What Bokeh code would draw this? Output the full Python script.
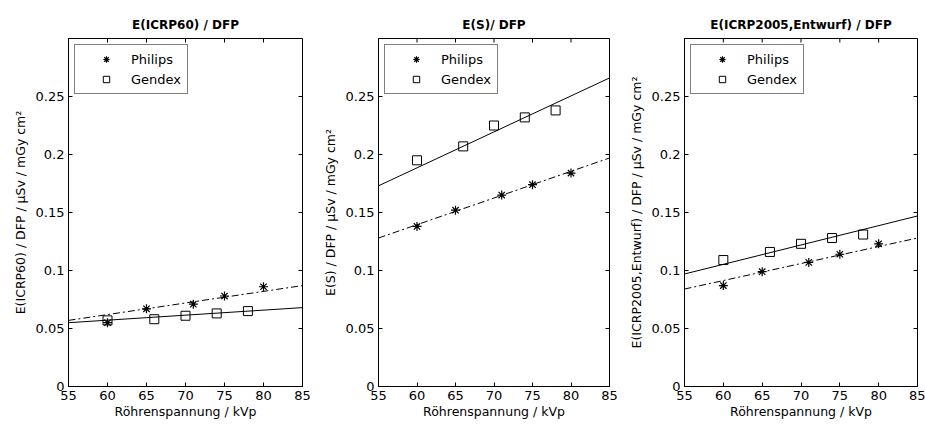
import math
from bokeh.plotting import figure
from bokeh.layouts import row
from bokeh.models import Range1d, FixedTicker, Legend, LegendItem
from bokeh.embed import file_html
from bokeh.resources import INLINE

# ---- data ----
kvp_philips = [60, 65, 71, 75, 80]
kvp_gendex = [60, 66, 70, 74, 78]

icrp60_philips = [0.055, 0.067, 0.071, 0.078, 0.086]
icrp60_gendex = [0.057, 0.058, 0.061, 0.063, 0.065]
es_philips = [0.138, 0.152, 0.165, 0.174, 0.184]
es_gendex = [0.195, 0.207, 0.225, 0.232, 0.238]
icrp2005_philips = [0.087, 0.099, 0.107, 0.114, 0.123]
icrp2005_gendex = [0.109, 0.116, 0.123, 0.128, 0.131]

fit_kvp = [55, 85]
icrp60_fit_philips = [0.057, 0.087]
icrp60_fit_gendex = [0.055, 0.068]
es_fit_philips = [0.128, 0.197]
es_fit_gendex = [0.173, 0.266]
icrp2005_fit_philips = [0.084, 0.128]
icrp2005_fit_gendex = [0.097, 0.147]

x_ticks = [55, 60, 65, 70, 75, 80, 85]
y_ticks = [0, 0.05, 0.1, 0.15, 0.2, 0.25]
y_tick_labels = ["0", "0.05", "0.1", "0.15", "0.2", "0.25"]

titles = ["E(ICRP60) / DFP", "E(S)/ DFP", "E(ICRP2005,Entwurf) / DFP"]
ylabels = ["E(ICRP60) / DFP / \u00b5Sv / mGy cm\u00b2",
           "E(S) / DFP / \u00b5Sv / mGy cm\u00b2",
           "E(ICRP2005,Entwurf) / DFP / \u00b5Sv / mGy cm\u00b2"]
xlabel = "R\u00f6hrenspannung / kVp"

FONT = "DejaVu Sans"


def style_axis(ax):
    ax.axis_line_color = "black"
    ax.major_tick_line_color = "black"
    ax.major_tick_in = 4
    ax.major_tick_out = 0
    ax.minor_tick_line_color = None
    ax.major_label_text_font = FONT
    ax.major_label_text_color = "black"
    ax.major_label_text_font_size = "13px"
    ax.major_label_standoff = 4
    ax.axis_label_text_font = FONT
    ax.axis_label_text_font_size = "12.5px"
    ax.axis_label_text_font_style = "normal"
    ax.axis_label_text_color = "black"


def panel(title, ylabel, ph, gx, fph, fgx, width, bl, br):
    p = figure(width=width, height=422, x_range=Range1d(55, 85), y_range=Range1d(0, 0.3),
               output_backend="svg", toolbar_location=None,
               min_border_left=bl, min_border_right=br, min_border_top=38, min_border_bottom=36,
               x_axis_label=xlabel, y_axis_label=ylabel)
    p.title.text = title
    p.title.align = "center"
    p.title.text_font = FONT
    p.title.text_font_size = "12px"
    p.title.text_font_style = "bold"
    p.title.text_color = "black"
    p.title.standoff = 14
    p.grid.visible = False
    p.outline_line_color = "black"
    p.background_fill_color = "white"
    p.border_fill_color = "white"

    p.xaxis.ticker = FixedTicker(ticks=x_ticks)
    p.yaxis.ticker = FixedTicker(ticks=y_ticks)
    p.yaxis.major_label_overrides = {t: l for t, l in zip(y_ticks, y_tick_labels)}
    style_axis(p.xaxis[0])
    style_axis(p.yaxis[0])
    p.xaxis.axis_label_standoff = 1
    p.yaxis.axis_label_standoff = 5

    # inward ticks on the top and right edges of the box
    p.scatter(x_ticks, [p.y_range.end] * len(x_ticks), marker="dash", angle=math.pi / 2,
              size=8, line_color="black", line_width=1)
    p.scatter([p.x_range.end] * len(y_ticks), y_ticks, marker="dash",
              size=8, line_color="black", line_width=1)

    p.line(fit_kvp, fph, line_color="black", line_width=1, line_dash="7 3 2 3")
    p.line(fit_kvp, fgx, line_color="black", line_width=1)
    r_ph = p.scatter(kvp_philips, ph, marker="asterisk", size=9, line_color="black", line_width=1.2)
    r_gx = p.scatter(kvp_gendex, gx, marker="square", size=9, line_color="black",
                     fill_color=None, line_width=1)

    legend = Legend(items=[LegendItem(label="Philips", renderers=[r_ph]),
                           LegendItem(label="Gendex", renderers=[r_gx])],
                    location="top_left", border_line_color="black", border_line_width=1,
                    padding=6, spacing=4, margin=6, glyph_width=50, glyph_height=16,
                    label_height=16, label_standoff=0, label_text_font=FONT,
                    label_text_font_size="13px", label_text_color="black",
                    background_fill_color="white", background_fill_alpha=1)
    p.add_layout(legend)
    return p


p1 = panel(titles[0], ylabels[0], icrp60_philips, icrp60_gendex,
           icrp60_fit_philips, icrp60_fit_gendex, 318, 68, 16)
p2 = panel(titles[1], ylabels[1], es_philips, es_gendex,
           es_fit_philips, es_fit_gendex, 303, 60, 12)
p3 = panel(titles[2], ylabels[2], icrp2005_philips, icrp2005_gendex,
           icrp2005_fit_philips, icrp2005_fit_gendex, 304, 63, 8)

layout = row(p1, p2, p3)
open("out.html", "w").write(file_html(layout, INLINE))
